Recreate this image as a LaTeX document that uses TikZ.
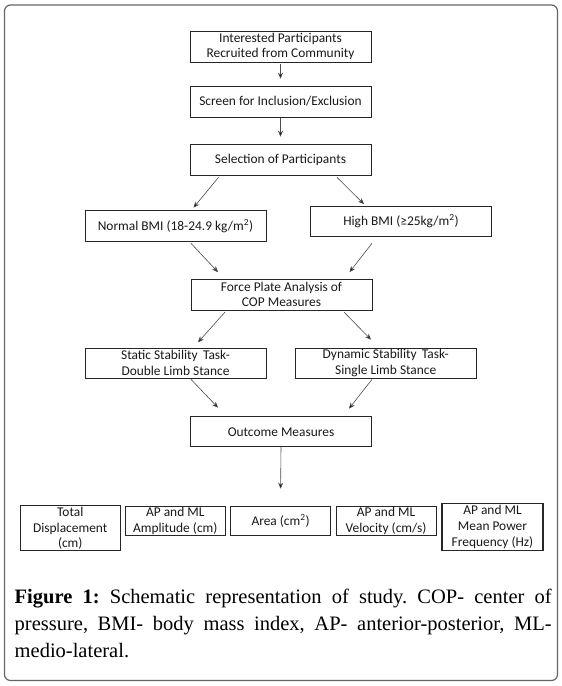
\documentclass[tikz,border=0pt]{standalone}
\usepackage{fontspec}
\setmainfont{Liberation Serif}
\newfontfamily\boxfont{Carlito}
\usetikzlibrary{arrows.meta}
\frenchspacing
\begin{document}
\begin{tikzpicture}[x=1pt,y=-1pt,
  box/.style={draw=black!85, line width=0.7pt, inner sep=0pt, align=center,
    font=\boxfont\fontsize{13.4}{15.6}\selectfont, text=black!90,
    minimum width=181pt, minimum height=31pt},
  sbox/.style={box, minimum width=100pt, minimum height=29.3pt},
  arr/.style={draw=black!70, line width=0.6pt, -{Stealth[length=6pt,width=5pt,fill=black]}}
]
\useasboundingbox (0,0) rectangle (562,686);
\fill[white] (0,0) rectangle (562,686);
\draw[draw=black!60, line width=1.2pt, rounded corners=6pt] (4.5,5) rectangle (557.5,680.5);

\node[box] (n1) at (280.5,46.5) {Interested Participants\\Recruited from Community};
\node[box] (n2) at (280.5,101.5) {Screen for Inclusion/Exclusion};
\node[box] (n3) at (280.5,159.5) {Selection of Participants};
\node[box] (nb) at (175.5,226) {Normal BMI (18-24.9 kg/m\textsuperscript{2})};
\node[box, minimum height=30.5pt] (hb) at (401,221.2) {High BMI (≥25kg/m\textsuperscript{2})};
\node[box] (fp) at (281.5,294.5) {Force Plate Analysis of\\COP Measures};
\node[box, minimum height=30pt] (st) at (175.5,363) {Static Stability\, Task-\\Double Limb Stance};
\node[box, minimum height=30pt] (dy) at (385.75,363) {Dynamic Stability\, Task-\\Single Limb Stance};
\node[box, minimum height=30pt] (oc) at (281,431.7) {Outcome Measures};

\node[sbox, minimum width=99.5pt, minimum height=45pt] (t1) at (70.25,528.3) {Total\\Displacement\\(cm)};
\node[sbox, minimum width=100.5pt] (t2) at (175.25,520.7) {AP and ML\\Amplitude (cm)};
\node[sbox] (t3) at (280.6,520.7) {Area (cm\textsuperscript{2})};
\node[sbox] (t4) at (386,520.7) {AP and ML\\Velocity (cm/s)};
\node[sbox, minimum width=101pt, minimum height=47.4pt, line width=1.1pt] (t5) at (492.5,527) {AP and ML\\Mean Power\\Frequency (Hz)};

\draw[arr] ([yshift=-2pt]n1.south) -- ([yshift=7pt]n2.north);
\draw[arr] ([yshift=-1pt]n2.south) -- ([yshift=7pt]n3.north);
\draw[arr] ([xshift=-62pt,yshift=-2pt]n3.south) -- ([xshift=18pt,yshift=2.5pt]nb.north);
\draw[arr] ([xshift=56.5pt,yshift=-2pt]n3.south) -- ([xshift=-37pt,yshift=1.5pt]hb.north);
\draw[arr] ([xshift=15.5pt,yshift=-1.5pt]nb.south) -- ([xshift=-63.5pt,yshift=6.5pt]fp.north);
\draw[arr] ([xshift=-29pt,yshift=-6.5pt]hb.south) -- ([xshift=68pt,yshift=6.5pt]fp.north);
\draw[arr] ([xshift=-56.5pt,yshift=-1.7pt]fp.south) -- ([xshift=22.5pt,yshift=5.3pt]st.north);
\draw[arr] ([xshift=62.5pt,yshift=-1.7pt]fp.south) -- ([xshift=-14.75pt,yshift=8pt]dy.north);
\draw[arr] ([xshift=15.5pt,yshift=-1pt]st.south) -- ([xshift=-63pt,yshift=8.7pt]oc.north);
\draw[arr] ([xshift=-13.75pt,yshift=-1pt]dy.south) -- ([xshift=68pt,yshift=7.7pt]oc.north);
\draw[arr] (oc.south) -- ([yshift=17pt]t3.north);

\node[anchor=north west, inner sep=0pt, text width=537pt, align=justify,
  font=\fontsize{20.5}{27}\selectfont] (cap) at (14.5,589)
  {\textbf{Figure 1:} Schematic representation of study. COP- center of\linebreak
   pressure, BMI- body mass index, AP- anterior-posterior, ML-\linebreak
   medio-lateral.};
\end{tikzpicture}
\end{document}
